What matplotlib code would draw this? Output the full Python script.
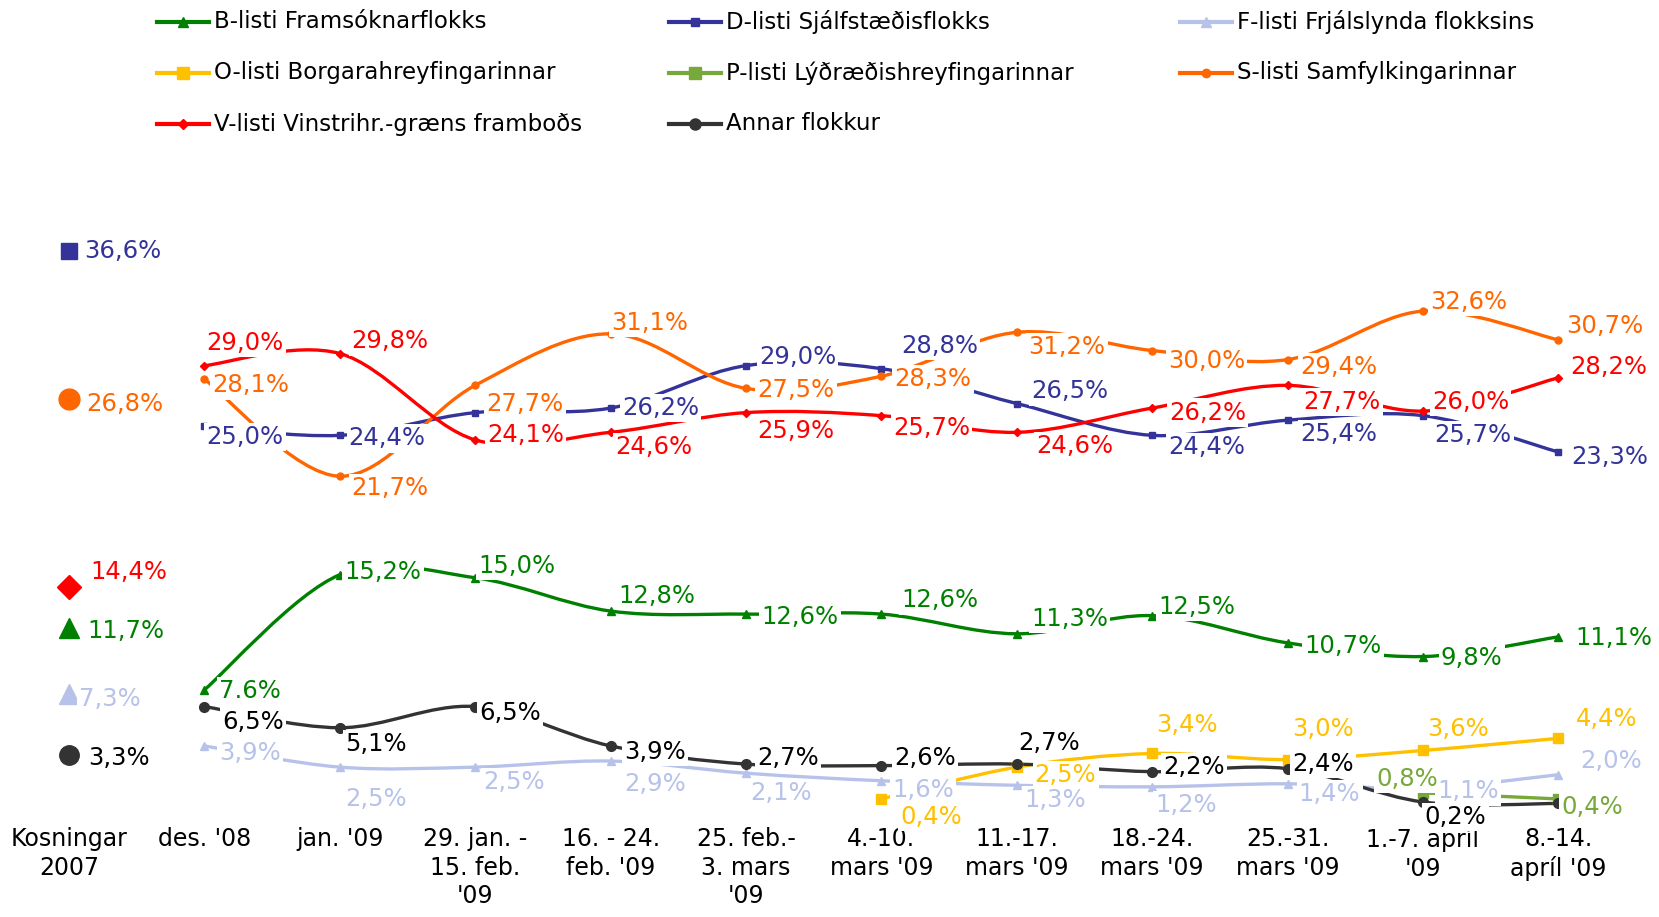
import numpy as np
import matplotlib.pyplot as plt
from matplotlib.path import Path
from matplotlib.patches import PathPatch
from matplotlib.lines import Line2D

# Categories (x axis)
categories = ["Kosningar\n2007", "des. '08", "jan. '09", "29. jan. -\n15. feb.\n'09",
              "16. - 24.\nfeb. '09", "25. feb.-\n3. mars\n'09", "4.-10.\nmars '09",
              "11.-17.\nmars '09", "18.-24.\nmars '09", "25.-31.\nmars '09",
              "1.-7. apríl\n'09", "8.-14.\napríl '09"]

# Poll values (%), first value is the 2007 election result
b_vals = [11.7, 7.6, 15.2, 15.0, 12.8, 12.6, 12.6, 11.3, 12.5, 10.7, 9.8, 11.1]
d_vals = [36.6, 25.0, 24.4, 25.9, 26.2, 29.0, 28.8, 26.5, 24.4, 25.4, 25.7, 23.3]
f_vals = [7.3, 3.9, 2.5, 2.5, 2.9, 2.1, 1.6, 1.3, 1.2, 1.4, 1.1, 2.0]
o_vals = [None] * 6 + [0.4, 2.5, 3.4, 3.0, 3.6, 4.4]
p_vals = [None] * 10 + [0.8, 0.4]
s_vals = [26.8, 28.1, 21.7, 27.7, 31.1, 27.5, 28.3, 31.2, 30.0, 29.4, 32.6, 30.7]
v_vals = [14.4, 29.0, 29.8, 24.1, 24.6, 25.9, 25.7, 24.6, 26.2, 27.7, 26.0, 28.2]
annar_vals = [3.3, 6.5, 5.1, 6.5, 3.9, 2.7, 2.6, 2.7, 2.2, 2.4, 0.2, 0.1]

names = ["B-listi Framsóknarflokks", "D-listi Sjálfstæðisflokks", "F-listi Frjálslynda flokksins",
         "O-listi Borgarahreyfingarinnar", "P-listi Lýðræðishreyfingarinnar", "S-listi Samfylkingarinnar",
         "V-listi Vinstrihr.-græns framboðs", "Annar flokkur"]

# label placement (dx in categories, dy in %), None = no label
b_off = [(0.42, -0.2), (0.34, -0.1), (0.32, 0.2), (0.31, 0.8), (0.34, 1.0), (0.40, -0.2),
         (0.43, 0.9), (0.39, 1.0), (0.33, 0.6), (0.41, -0.2), (0.36, -0.1), (0.41, -0.1)]
d_off = [(0.40, 0.0), (0.30, -0.7), (0.35, -0.2), None, (0.37, 0.0), (0.38, 0.6),
         (0.43, 1.5), (0.39, 0.8), (0.40, -0.8), (0.38, -0.9), (0.37, -1.3), (0.38, -0.3)]
f_off = [(0.30, -0.3), (0.34, -0.5), (0.27, -2.1), (0.29, -1.0), (0.33, -1.5), (0.26, -1.3),
         (0.31, -0.6), (0.28, -1.0), (0.25, -1.2), (0.31, -0.7), (0.33, -0.2), (0.39, 0.9)]
o_off = [None] * 6 + [(0.37, -1.2), (0.36, -0.5), (0.26, 1.9), (0.26, 2.0), (0.26, 1.4), (0.36, 1.3)]
p_off = [None] * 10 + [(-0.12, 0.9), (0.25, -0.5)]
s_off = [(0.41, -0.3), (0.34, -0.4), (0.37, -0.8), (0.37, -1.2), (0.29, 0.7), (0.37, -0.1),
         (0.38, -0.2), (0.37, -1.0), (0.40, -0.7), (0.38, -0.5), (0.34, 0.6), (0.34, 0.9)]
v_off = [(0.44, 1.0), (0.30, 1.5), (0.37, 0.8), (0.37, 0.3), (0.32, -1.0), (0.37, -1.2),
         (0.37, -0.8), (0.43, -0.9), (0.41, -0.3), (0.40, -1.1), (0.35, 0.6), (0.37, 0.7)]
annar_off = [(0.37, -0.2), (0.36, -1.0), (0.27, -1.1), (0.26, -0.4), (0.33, -0.4), (0.31, 0.4),
             (0.32, 0.5), (0.24, 1.4), (0.31, 0.3), (0.26, 0.3), (0.24, -1.0), None]

series = [
    # values, offsets, colour, label colour, marker, small ms, big ms
    (b_vals, b_off, '#008000', '#008000', '^', 6, 15),
    (d_vals, d_off, '#333399', '#333399', 's', 5, 11),
    (f_vals, f_off, '#B7C2EB', '#B7C2EB', '^', 6, 15),
    (o_vals, o_off, '#FFC000', '#FFC000', 's', 7, 11),
    (p_vals, p_off, '#77A83A', '#77A83A', 's', 7, 11),
    (s_vals, s_off, '#FF6600', '#FF6600', 'o', 5, 15),
    (v_vals, v_off, '#FF0000', '#FF0000', 'D', 4.5, 12),
    (annar_vals, annar_off, '#333333', '#000000', 'o', 7, 14),
]
text_override = {(0, 1): '7.6%'}


def smooth_path(xs, ys):
    # Bezier curve through the points, like a spreadsheet "smoothed line"
    pts = np.column_stack([xs, ys]).astype(float)
    verts = [pts[0]]
    codes = [Path.MOVETO]
    n = len(pts)
    for i in range(n - 1):
        p0 = pts[i - 1] if i > 0 else pts[i]
        p1 = pts[i]
        p2 = pts[i + 1]
        p3 = pts[i + 2] if i + 2 < n else pts[i + 1]
        c1 = p1 + (p2 - p0) / 6.0
        c2 = p2 - (p3 - p1) / 6.0
        verts += [c1, c2, p2]
        codes += [Path.CURVE4] * 3
    return Path(verts, codes)


fig = plt.figure(figsize=(16.59, 9.17), dpi=100)
ax = fig.add_axes([0, 0, 1, 1])
ax.set_xlim(-69 / 135.4, (1659 - 69) / 135.4)
ax.set_ylim(-(917 - 805) / 15.15, 805 / 15.15)
ax.axis('off')

for k, (vals, offs, col, tcol, mk, ms, big) in enumerate(series):
    idx = [i for i in range(1, len(vals)) if vals[i] is not None]
    xs = np.array(idx)
    ys = np.array([vals[i] for i in idx])
    if len(xs) > 1:
        ax.add_patch(PathPatch(smooth_path(xs, ys), fill=False, edgecolor=col, lw=2.4,
                               capstyle='round', joinstyle='round', zorder=2))
    ax.plot(xs, ys, linestyle='none', marker=mk, ms=ms, color=col, zorder=3)
    if vals[0] is not None:
        ax.plot([0], [vals[0]], linestyle='none', marker=mk, ms=big, color=col, zorder=3)
    for i, v in enumerate(vals):
        if v is None or offs[i] is None:
            continue
        txt = text_override.get((k, i), f"{v:.1f}".replace('.', ',') + '%')
        dx, dy = offs[i]
        ax.text(i + dx, v + dy, txt, ha='center', va='center', fontsize=17.5, color=tcol,
                zorder=5, bbox=dict(facecolor='white', edgecolor='none', pad=1.5))

for i, cat in enumerate(categories):
    ax.text(i, -1.45, cat, ha='center', va='top', fontsize=17, linespacing=1.25)

# legend, row by row
col_x = [157, 669, 1180]
row_y = [22, 73, 124]
for k, (vals, offs, col, tcol, mk, ms, big) in enumerate(series):
    c, r = k % 3, k // 3
    x0 = col_x[c] / 1659
    x1 = (col_x[c] + 52) / 1659
    y = 1 - row_y[r] / 917
    fig.add_artist(Line2D([x0, x1], [y, y], color=col, lw=3, transform=fig.transFigure))
    fig.add_artist(Line2D([(x0 + x1) / 2], [y], color=col, marker=mk, ms=ms + 1,
                          transform=fig.transFigure))
    fig.text(x1 + 5 / 1659, y, names[k], ha='left', va='center', fontsize=16.5)

fig.savefig('out.png', dpi=100)
